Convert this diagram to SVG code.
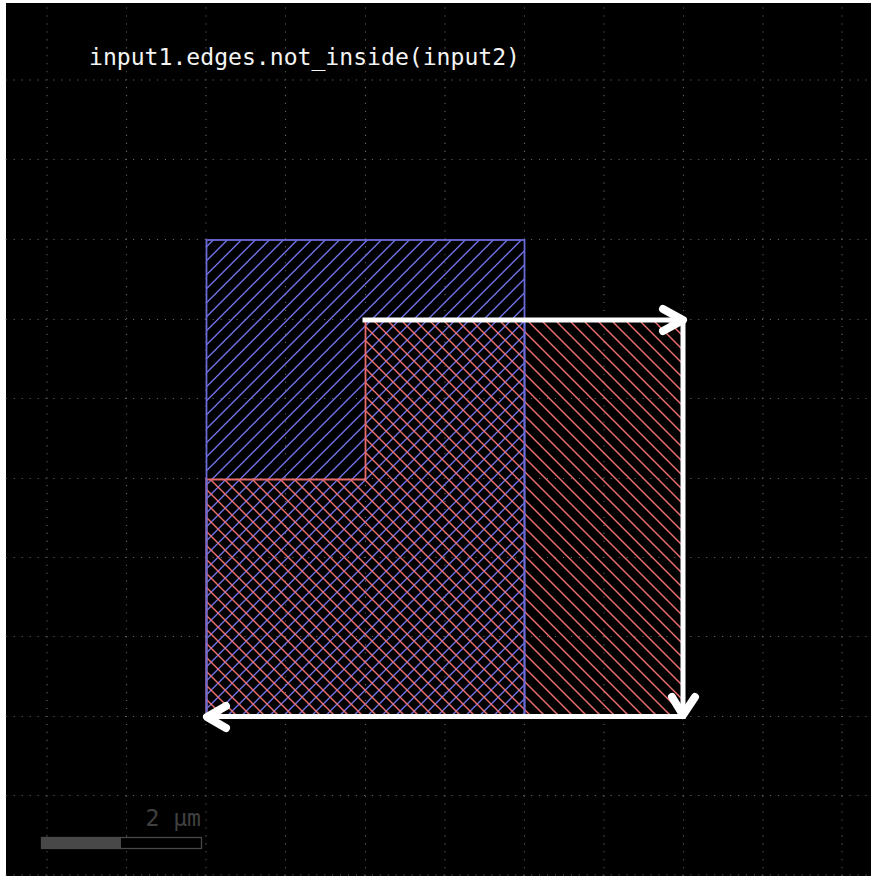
<svg xmlns="http://www.w3.org/2000/svg" width="871" height="876" viewBox="0 0 871 876">
<style>
.gh{stroke:#666;stroke-width:1.1;stroke-dasharray:1.1 6.86;fill:none}
.edge{stroke:#fff;stroke-width:5;fill:none;stroke-linecap:square}
.head{stroke:#fff;stroke-width:8;fill:none;stroke-linecap:round;stroke-linejoin:round}
text{font-family:"DejaVu Sans Mono","Liberation Mono",monospace;font-size:23.1px}
</style>
<defs>
<pattern id="hb" patternUnits="userSpaceOnUse" width="14" height="14"><path d="M-1 6.3L6.3-1M4.3 15L15 4.3" stroke="#7070e6" stroke-width="1.4" fill="none"/></pattern>
<pattern id="hr" patternUnits="userSpaceOnUse" width="14" height="14"><path d="M10-1L15 4M-1 2L13 16" stroke="#f07070" stroke-width="1.4" fill="none"/></pattern>
</defs>
<rect width="871" height="876" fill="#fff"/>
<rect x="6" y="3" width="865" height="873" fill="#000"/>
<g id="grid">
<path class="gh" d="M5.7 80H871M5.7 159.500H871M5.700 239.500H871M5.700 319.500H871M5.700 398.500H871M5.700 478.500H871M5.700 557.500H871M5.700 636.500H871M5.700 716.500H871M5.700 795.500H871M5.700 875H871"/>
<path class="gh" d="M47 7.500V876M126.500 7.500V876M206 7.500V876M285.500 7.500V876M365.500 7.500V876M445 7.500V876M524.500 7.500V876M604 7.500V876M683.500 7.500V876M763 7.500V876M842 7.500V876"/>
</g>
<g id="input1">
<rect x="206.500" y="240" width="318" height="477" fill="url(#hb)" stroke="#6a6ad8" stroke-width="1.800"/>
</g>
<g id="input2">
<path d="M365.500 320H683.500V717H206.500V479.500H365.500Z" fill="url(#hr)" stroke="#e86a6a" stroke-width="1.800"/>
<path d="M206.500 479V717M524.500 320V717" stroke="#6a6ad8" stroke-width="1.800" fill="none"/>
</g>
<g id="connectors">
<path class="edge" d="M365 320H683"/>
<path class="head" d="M663 309L683 320L663 331"/>
<path class="edge" d="M683 320V716"/>
<path class="head" d="M672 697L683 715L695 697"/>
<path class="edge" d="M683 716.500H207"/>
<path class="head" d="M226 706L207 717L226 728"/>
</g>
<g id="title"><text x="89" y="65" fill="#f4f4f4">input1.edges.not_inside(input2)</text></g>
<g id="scale">
<text x="201" y="826" fill="#404040" text-anchor="end">2 µm</text>
<rect x="41.500" y="837.500" width="160" height="11" fill="#000" stroke="#484848" stroke-width="1.300"/>
<rect x="41" y="837" width="80" height="12" fill="#484848"/>
</g>
</svg>
